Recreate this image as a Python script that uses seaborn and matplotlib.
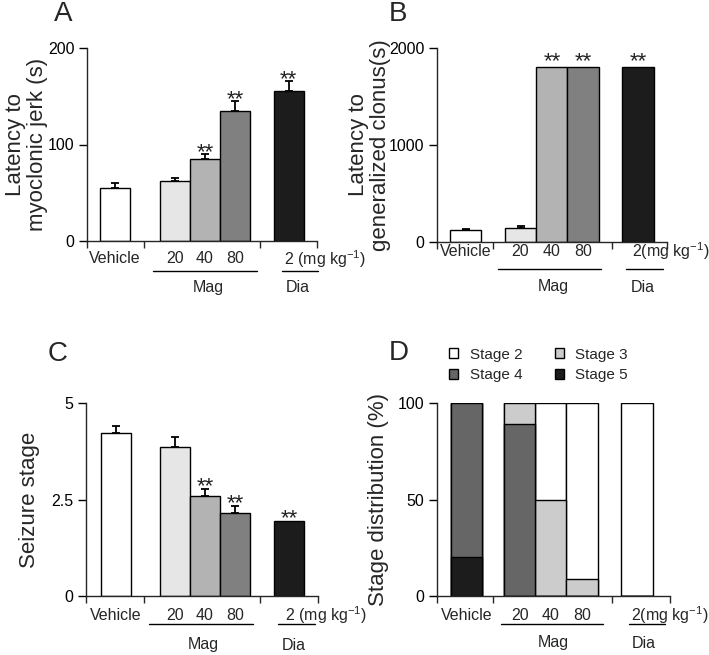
import numpy as np
import pandas as pd
import matplotlib
matplotlib.use("Agg")
import matplotlib.pyplot as plt
from matplotlib.transforms import blended_transform_factory
import seaborn as sns

# groups and bar colours
groups = ["Vehicle", "20", "40", "80", "2"]
bar_colors = ["#ffffff", "#e6e6e6", "#b3b3b3", "#808080", "#1c1c1c"]

# A - latency to myoclonic jerk (s)
myoclonic_latency = [55, 62, 85, 135, 155]
myoclonic_sem = [5, 3, 5.5, 10, 10.5]
myoclonic_sig = ["", "", "**", "**", "**"]

# B - latency to generalized clonus (s)
clonus_latency = [120, 140, 1800, 1800, 1800]
clonus_sem = [15, 20, 0, 0, 0]
clonus_sig = ["", "", "**", "**", "**"]

# C - seizure stage
seizure_stage = [4.22, 3.87, 2.6, 2.16, 1.95]
seizure_sem = [0.19, 0.24, 0.17, 0.17, 0]
seizure_sig = ["", "", "**", "**", "**"]

# D - stage distribution (%)
stage_names = ["Stage 2", "Stage 3", "Stage 4", "Stage 5"]
stage_colors = ["#ffffff", "#cccccc", "#666666", "#1c1c1c"]
stage2 = [0, 0, 50, 91, 100]
stage3 = [0, 11, 50, 9, 0]
stage4 = [80, 89, 0, 0, 0]
stage5 = [20, 0, 0, 0, 0]

W, H = 709, 655

sns.set_style("ticks")
plt.rcParams["font.family"] = ["Liberation Sans", "DejaVu Sans"]
plt.rcParams["mathtext.fontset"] = "custom"
plt.rcParams["mathtext.rm"] = "Liberation Sans"
plt.rcParams["axes.linewidth"] = 1.0

fig = plt.figure(figsize=(W / 100, H / 100), dpi=100)

# layout of each panel, in figure pixels / data units
layouts = {
    "A": dict(rect=(87, 48, 317, 241), pos=[0, 2, 3, 4, 5.8], xlim=(-0.93, 6.74), ticks=[0.98, 4.85],
              label_y=259, line_y=271, mag_line=(1.27, 4.74), dia_line=(5.57, 6.77), group_y=288,
              mag_x=3.1, dia_x=6.1, dose_x=5.65, dose="2 (mg kg$^{-1}$)", ylab_x=-0.17, letter=(63, 14)),
    "B": dict(rect=(436.7, 48, 667, 242), pos=[0, 1.75, 2.75, 3.75, 5.5], xlim=(-0.93, 6.43), ticks=[0.87, 4.67],
              label_y=251, line_y=269, mag_line=(1.03, 4.31), dia_line=(5.13, 6.31), group_y=287,
              mag_x=2.8, dia_x=5.67, dose_x=5.32, dose="2(mg kg$^{-1}$)", ylab_x=-0.2, letter=(398, 14)),
    "C": dict(rect=(86, 403, 318, 596), pos=[0, 1.95, 2.95, 3.95, 5.75], xlim=(-1.0, 6.71), ticks=[0.94, 4.78],
              label_y=615, line_y=624, mag_line=(1.1, 4.56), dia_line=(5.39, 6.61), group_y=645,
              mag_x=2.9, dia_x=5.89, dose_x=5.61, dose="2 (mg kg$^{-1}$)", ylab_x=-0.2, letter=(58, 354)),
    "D": dict(rect=(436.7, 403.3, 670, 596), pos=[0, 1.7, 2.7, 3.7, 5.46], xlim=(-0.96, 6.52), ticks=[0.85, 4.67],
              label_y=615, line_y=624, mag_line=(1.09, 4.38), dia_line=(5.2, 6.37), group_y=643,
              mag_x=2.78, dia_x=5.68, dose_x=5.28, dose="2(mg kg$^{-1}$)", ylab_x=-0.205, letter=(399, 353)),
}


def make_axes(lay):
    l, t, r, b = lay["rect"]
    ax = fig.add_axes([l / W, 1 - b / H, (r - l) / W, (b - t) / H])
    return ax


def bar_panel(ax, pos, vals, colors):
    df = pd.DataFrame({"pos": pos, "val": vals, "grp": groups})
    sns.barplot(data=df, x="pos", y="val", hue="grp", hue_order=groups, palette=colors,
                native_scale=True, width=1, saturation=1, edgecolor="black", linewidth=1,
                errorbar=None, legend=False, ax=ax)


def add_errors(ax, pos, vals, sem, sig, star_off):
    pos = np.array(pos)
    vals = np.array(vals, dtype=float)
    sem = np.array(sem, dtype=float)
    m = sem > 0
    ax.errorbar(pos[m], vals[m], yerr=[np.zeros(m.sum()), sem[m]], fmt="none", ecolor="black",
                elinewidth=1.3, capsize=3, capthick=1.3, zorder=1)
    for i, s in enumerate(sig):
        if s:
            ax.annotate(s, (pos[i], vals[i] + sem[i]), xytext=(0, star_off), textcoords="offset points",
                        ha="center", va="baseline", fontsize=16, color="#222222")


def finish(ax, lay, ylim, yticks, yticklabels, ylabel, letter):
    ax.set_xlim(*lay["xlim"])
    ax.set_ylim(*ylim)
    sns.despine(ax=ax)
    ax.set_yticks(yticks)
    ax.set_yticklabels(yticklabels, fontsize=11.5)
    ax.set_xticks([lay["xlim"][0]] + lay["ticks"] + [lay["xlim"][1]])
    ax.set_xticklabels([])
    ax.tick_params(axis="y", direction="out", length=6, width=1, pad=3, colors="black")
    ax.tick_params(axis="x", direction="out", length=5, width=1)
    ax.set_xlabel("")
    ax.set_ylabel(ylabel, fontsize=16, linespacing=1.05)
    ax.yaxis.set_label_coords(lay["ylab_x"], 0.5)

    tr = blended_transform_factory(ax.transData, fig.transFigure)
    ly = 1 - lay["label_y"] / H
    pos = lay["pos"]
    ax.text(pos[0], ly, "Vehicle", transform=tr, ha="center", va="center", fontsize=11.5)
    for p, g in zip(pos[1:4], groups[1:4]):
        ax.text(p, ly, g, transform=tr, ha="center", va="center", fontsize=11.5)
    ax.text(lay["dose_x"], ly, lay["dose"], transform=tr, ha="left", va="center", fontsize=11.5)
    yline = 1 - lay["line_y"] / H
    for x0, x1 in (lay["mag_line"], lay["dia_line"]):
        ax.plot([x0, x1], [yline, yline], transform=tr, color="black", lw=1, clip_on=False)
    gy = 1 - lay["group_y"] / H
    ax.text(lay["mag_x"], gy, "Mag", transform=tr, ha="center", va="center", fontsize=11.5)
    ax.text(lay["dia_x"], gy, "Dia", transform=tr, ha="center", va="center", fontsize=11.5)

    lx, lyy = lay["letter"]
    fig.text(lx / W, 1 - lyy / H, letter, ha="center", va="center", fontsize=20)


# A
lay = layouts["A"]
ax = make_axes(lay)
bar_panel(ax, lay["pos"], myoclonic_latency, bar_colors)
add_errors(ax, lay["pos"], myoclonic_latency, myoclonic_sem, myoclonic_sig, -3)
finish(ax, lay, (0, 200), [0, 100, 200], ["0", "100", "200"], "Latency to\nmyoclonic jerk (s)", "A")

# B
lay = layouts["B"]
ax = make_axes(lay)
bar_panel(ax, lay["pos"], clonus_latency, bar_colors)
add_errors(ax, lay["pos"], clonus_latency, clonus_sem, clonus_sig, 0.5)
finish(ax, lay, (0, 2000), [0, 1000, 2000], ["0", "1000", "2000"], "Latency to\ngeneralized clonus(s)", "B")

# C
lay = layouts["C"]
ax = make_axes(lay)
bar_panel(ax, lay["pos"], seizure_stage, bar_colors)
add_errors(ax, lay["pos"], seizure_stage, seizure_sem, seizure_sig, -2.5)
finish(ax, lay, (0, 5), [0, 2.5, 5], ["0", "2.5", "5"], "Seizure stage", "C")

# D - stacked bars drawn as cumulative totals, top layer first
lay = layouts["D"]
ax = make_axes(lay)
stack = np.array([stage5, stage4, stage3, stage2], dtype=float)
tops = stack.cumsum(axis=0)[::-1]  # stage 2, 3, 4, 5 tops
for name, col, top in zip(stage_names, stage_colors, tops):
    sns.barplot(x=lay["pos"], y=top, native_scale=True, width=1, saturation=1, color=col,
                edgecolor="black", linewidth=1, errorbar=None, label=name, ax=ax)
finish(ax, lay, (0, 100), [0, 50, 100], ["0", "50", "100"], "Stage distribution (%)", "D")
handles = list(ax.containers)
order = [0, 2, 1, 3]
ax.legend([handles[i] for i in order], [stage_names[i] for i in order], ncol=2, frameon=False,
          loc="upper left", bbox_to_anchor=(449.3 / W, 1 - 347.6 / H), bbox_transform=fig.transFigure,
          borderpad=0, borderaxespad=0, fontsize=11, handlelength=0.6, handleheight=0.6,
          handletextpad=0.75, columnspacing=2.1, labelspacing=0.45)

fig.savefig("out.png", dpi=100)
